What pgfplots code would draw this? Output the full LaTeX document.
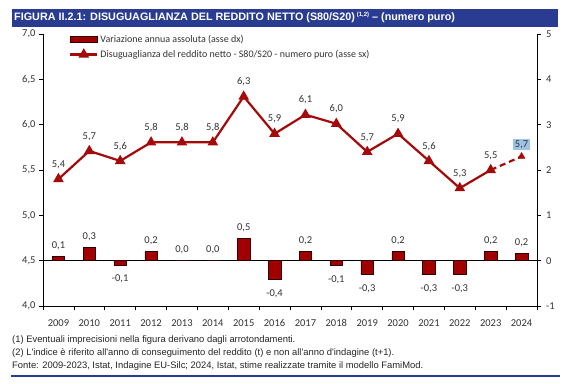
\documentclass[border=0pt]{standalone}
\usepackage{fontspec}
\setmainfont{Carlito}
\newfontfamily\notefont{Liberation Sans}
\usepackage{pgfplots}
\pgfplotsset{compat=1.18}
\usepackage{pgfplotstable}
\definecolor{barred}{HTML}{A00000}
\definecolor{linered}{HTML}{A50A0A}
\definecolor{titleblue}{HTML}{2A3C91}
\definecolor{lblblue}{HTML}{9DC3E6}
\definecolor{txt}{HTML}{333333}

\pgfplotsset{
  barleg/.style={legend image code/.code={\draw[##1] (0pt,-3pt) rectangle (27pt,3pt);}},
  lineleg/.style={legend image code/.code={\draw[mark repeat=2, mark phase=2, ##1] plot coordinates {(0pt,0pt) (13.5pt,0pt) (27pt,0pt)};}},
}

\pgfplotstableread{
x y lab
0 0.10 0,1
1 0.30 0,3
3 0.20 0,2
4 0.00 0,0
5 0.00 0,0
6 0.50 0,5
8 0.20 0,2
11 0.20 0,2
14 0.20 0,2
15 0.16 0,2
}\barpos
\pgfplotstableread{
x y lab
2 -0.10 -0,1
7 -0.42 -0,4
9 -0.11 -0,1
10 -0.31 -0,3
12 -0.31 -0,3
13 -0.31 -0,3
}\barneg
\pgfplotstableread{
x y lab
0 5.40 5,4
1 5.71 5,7
2 5.60 5,6
3 5.805 5,8
4 5.805 5,8
5 5.805 5,8
6 6.31 6,3
7 5.90 5,9
8 6.11 6,1
9 6.01 6,0
10 5.70 5,7
11 5.90 5,9
12 5.60 5,6
13 5.30 5,3
14 5.50 5,5
}\linedata
\pgfplotstableread{
x y lab
14 5.50 5,5
15 5.65 5,7
}\lineproj
\pgfplotstableread{
x y lab
15 5.65 5,7
}\lastpt

\begin{document}
\begin{tikzpicture}[x=1pt,y=1pt]
\path[use as bounding box] (0,0) rectangle (567,383);
\fill[white] (0,0) rectangle (567,383);
% title bar
\fill[titleblue] (12,356) rectangle (558,374);
\node[anchor=west, text=white, inner sep=0pt, font=\notefont\bfseries\fontsize{10.8}{12}\selectfont] at (14,365.5)
  {FIGURA II.2.1: DISUGUAGLIANZA DEL REDDITO NETTO (S80/S20)\,\raisebox{0.35em}{\fontsize{6}{7}\selectfont (1,2)} – (numero puro)};

% right axis: bars
\begin{axis}[
  at={(43pt,77pt)}, anchor=south west, scale only axis,
  width=494pt, height=272pt,
  xmin=-0.5, xmax=15.5, ymin=-1, ymax=5,
  axis y line*=right, axis x line*=bottom,
  xtick={-0.5,0.5,...,15.5}, xticklabels={},
  ytick={-1,0,1,2,3,4,5},
  tick align=outside, major tick length=4pt,
  tick style={black, line width=0.6pt},
  axis line style={black, line width=0.8pt},
  /pgf/number format/assume math mode=true,
  yticklabel style={font=\fontsize{10.5}{12}\selectfont, text=txt, xshift=1.5pt},
  clip=false,
]
\addplot[black, line width=0.8pt] coordinates {(-0.5,0) (15.5,0)};
\addplot[ybar, bar width=12.5pt, bar shift=0pt, fill=barred, draw=black!70!barred, line width=0.5pt,
  point meta=explicit symbolic, nodes near coords,
  every node near coord/.append style={anchor=south, yshift=3pt, font=\fontsize{10.5}{12}\selectfont, text=txt}]
  table[x=x, y=y, meta=lab] {\barpos};
\addplot[ybar, bar width=12.5pt, bar shift=0pt, fill=barred, draw=black!70!barred, line width=0.5pt,
  point meta=explicit symbolic, nodes near coords,
  every node near coord/.append style={anchor=north, yshift=-6pt, font=\fontsize{10.5}{12}\selectfont, text=txt}]
  table[x=x, y=y, meta=lab] {\barneg};
\end{axis}

% left axis: line
\begin{axis}[
  at={(43pt,77pt)}, anchor=south west, scale only axis,
  width=494pt, height=272pt,
  xmin=-0.5, xmax=15.5, ymin=4, ymax=7,
  axis y line*=left, axis x line*=bottom,
  xtick={0,...,15},
  xticklabels={2009,2010,2011,2012,2013,2014,2015,2016,2017,2018,2019,2020,2021,2022,2023,2024},
  xtick style={draw=none},
  ytick={4,4.5,5,5.5,6,6.5,7},
  tick align=outside, major tick length=4pt,
  tick style={black, line width=0.6pt},
  axis line style={black, line width=0.8pt},
  /pgf/number format/assume math mode=true,
  /pgf/number format/.cd, use comma, fixed, fixed zerofill, precision=1, /pgfplots/.cd,
  yticklabel style={font=\fontsize{10.5}{12}\selectfont, text=txt},
  xticklabel style={font=\fontsize{10.5}{12}\selectfont, text=txt, yshift=-6pt},
  clip=false,
  legend style={draw=none, fill=none, at={(0,1)}, anchor=north west, xshift=26pt, yshift=1pt,
    font=\fontsize{10}{12}\selectfont, text=txt, row sep=2pt, inner sep=0pt},
  legend cell align=left,
]
\addlegendimage{barleg, fill=barred, draw=black!70!barred, line width=0.5pt}
\addlegendentry{Variazione annua assoluta (asse dx)}
\addplot[linered, line width=2.2pt, mark=triangle*, mark size=4pt, mark options={solid},
  point meta=explicit symbolic, nodes near coords,
  every node near coord/.append style={anchor=south, yshift=6pt, font=\fontsize{10.5}{12}\selectfont, text=txt},
  lineleg]
  table[x=x, y=y, meta=lab] {\linedata};
\addlegendentry{Disuguaglianza del reddito netto - S80/S20 - numero puro (asse sx)}
\addplot[linered, line width=2.2pt, dash pattern=on 6pt off 4pt, forget plot]
  table[x=x, y=y] {\lineproj};
\addplot[linered, only marks, mark=triangle*, mark size=4pt, forget plot,
  point meta=explicit symbolic, nodes near coords,
  every node near coord/.append style={anchor=south, yshift=6pt, fill=lblblue, inner sep=1.8pt, font=\fontsize{10.5}{12}\selectfont, text=txt}]
  table[x=x, y=y, meta=lab] {\lastpt};
\end{axis}

% footnotes
\node[anchor=west, inner sep=0pt, font=\notefont\fontsize{9.4}{11}\selectfont, text=black!85] at (12,43) {(1) Eventuali imprecisioni nella figura derivano dagli arrotondamenti.};
\node[anchor=west, inner sep=0pt, font=\notefont\fontsize{9.4}{11}\selectfont, text=black!85] at (12,30) {(2) L'indice è riferito all'anno di conseguimento del reddito (t) e non all'anno d'indagine (t+1).};
\node[anchor=west, inner sep=0pt, font=\notefont\fontsize{9.4}{11}\selectfont, text=black!85] at (12,17) {Fonte: 2009-2023, Istat, Indagine EU-Silc; 2024, Istat, stime realizzate tramite il modello FamiMod.};
\draw[titleblue, line width=1.8pt] (11,7) -- (560,7);
\end{tikzpicture}
\end{document}
